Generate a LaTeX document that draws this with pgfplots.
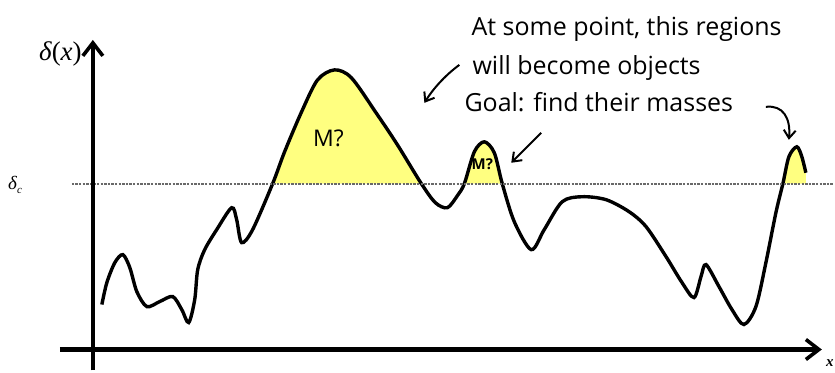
\documentclass[border=0pt]{standalone}
\usepackage{pgfplots}
\pgfplotsset{compat=1.18}
\usepgfplotslibrary{fillbetween}
\usetikzlibrary{arrows.meta}
\usepackage{fontspec}
\newfontfamily\hand{Open Sans}
\newfontfamily\tnr{Liberation Serif}
\definecolor{peak}{RGB}{255,255,128}
\definecolor{thr}{RGB}{105,105,105}

\begin{document}
\begin{tikzpicture}
\begin{axis}[
  scale only axis, width=835pt, height=371pt,
  xmin=0, xmax=835, ymin=0, ymax=371,
  y dir=reverse,
  hide axis, clip=false, set layers,
]
% fixed canvas
\path (axis cs:0,0) rectangle (axis cs:835,371);

% density field delta(x)
\addplot[name path=delta, black, line width=3.4pt, smooth, tension=0.5] coordinates {
 (102,305) (107,283) (115,263) (123,255) (130,268) (137,292) (147,307)
 (160,302) (173,297) (182,310) (189,323) (195,300) (198,270) (205,250)
 (217,230) (232,208) (237,220) (242,243) (253,230) (273,184) (285,152)
 (302,112) (318,80) (335,70) (352,78) (378,115) (398,145) (422,184)
 (436,203) (448,208) (458,196) (465,184) (475,152) (485,142) (495,153)
 (503,184) (515,222) (532,250) (545,230) (563,202) (583,197) (607,200)
 (630,212) (647,227) (667,257) (683,283) (695,298) (702,277) (707,265)
 (720,287) (733,310) (745,325) (757,307) (767,263) (777,213) (784,184)
 (790,157) (798,147) (803,157) (807,173)
};
% critical threshold delta_c
\addplot[name path=dc, thr, line width=2.4pt, dash pattern=on 2.4pt off 1.2pt]
  coordinates {(72,184) (835,184)};

% regions above the threshold
\addplot[peak] fill between[of=delta and dc, soft clip={domain=273:422}];
\addplot[peak] fill between[of=delta and dc, soft clip={domain=465:503}];
\addplot[peak] fill between[of=delta and dc, soft clip={domain=784:807}];

% axes
\draw[line width=4.2pt, -{Straight Barb[length=13pt, width=20pt, line width=3.6pt]}]
  (axis cs:93,371) -- (axis cs:93,40);
\draw[line width=4.2pt, -{Straight Barb[length=13pt, width=20pt, line width=3.6pt]}]
  (axis cs:60,350) -- (axis cs:823,350);

\node[anchor=base east, inner sep=0pt] at (axis cs:82,61)
  {\tnr\fontsize{27}{30}\selectfont\itshape δ\upshape(\itshape x\upshape)};
\node[anchor=base west, inner sep=0pt] at (axis cs:8,190)
  {\tnr\fontsize{19}{22}\selectfont\itshape δ\raisebox{-0.22em}{\fontsize{11}{12}\selectfont c}};
\node[overlay, anchor=north west, inner sep=0pt] at (axis cs:827,360)
  {\tnr\fontsize{15}{17}\selectfont\bfseries\itshape x};

% annotations
\node at (axis cs:329,139) {\hand\fontsize{23}{26}\selectfont M?};
\node at (axis cs:483,164) {\hand\bfseries\fontsize{15}{17}\selectfont M?};

\node[anchor=base west, inner sep=0pt, font=\hand] at (axis cs:472,36) {\fontsize{25}{29}\selectfont At some point, this regions};
\node[anchor=base west, inner sep=0pt, font=\hand] at (axis cs:473,75) {\fontsize{25}{29}\selectfont will become objects};
\node[anchor=base west, inner sep=0pt, font=\hand] at (axis cs:465,112) {\fontsize{25}{29}\selectfont Goal: find their masses};

\draw[line width=2pt, -{Straight Barb[length=8pt, width=12pt, line width=2pt]}]
  (axis cs:460,65) .. controls (axis cs:445,76) and (axis cs:433,90) .. (axis cs:425,103);
\draw[line width=2pt, -{Straight Barb[length=8pt, width=12pt, line width=2pt]}]
  (axis cs:542,133) .. controls (axis cs:530,145) and (axis cs:520,155) .. (axis cs:512,163);
\draw[line width=2pt, -{Straight Barb[length=8pt, width=12pt, line width=2pt]}]
  (axis cs:767,107) .. controls (axis cs:784,105) and (axis cs:792,118) .. (axis cs:790,140);
\end{axis}
\end{tikzpicture}
\end{document}
